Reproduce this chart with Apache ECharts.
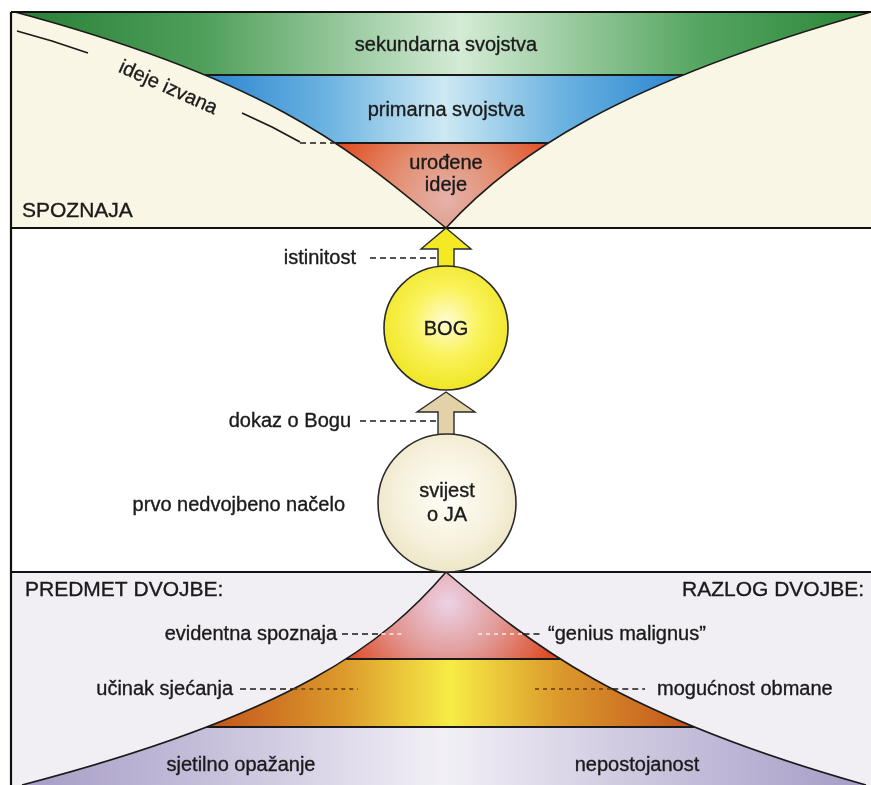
<!DOCTYPE html>
<html><head><meta charset="utf-8">
<script src="https://cdn.jsdelivr.net/npm/echarts@6/dist/echarts.min.js"></script>
<style>html,body{margin:0;padding:0;background:#fff}#c{width:871px;height:785px}</style>
</head><body><div id="c"></div><script>
// ---------------- data (diagram units = reference pixels) ----------------
const sectionRules = [12, 228, 572];
const sectionLabels = ['SPOZNAJA', 'PREDMET DVOJBE:', 'RAZLOG DVOJBE:'];
const topBandLabels = ['sekundarna svojstva', 'primarna svojstva', 'urođene\nideje'];
const topBandEdges = [12, 75, 143, 228];
const topCurveLeft = [[15, 12], [283, 84], [357, 156], [446, 228]];
const topCurveRight = [[871, 12], [615, 84], [512, 156], [446, 228]];
const sideLabel = 'ideje izvana';
const sideLineA = [[17, 31], [52, 41], [88, 53]];
const sideLineB = [[242, 113], [272, 127], [300, 142]];
const sideDash = [[300, 143], [334, 143]];
const bottomBandEdges = [572, 659, 727, 785];
const bottomCurveLeft = [[446, 572], [385, 643], [294, 714], [22, 785]];
const bottomCurveRight = [[446, 572], [530, 643], [614, 714], [866, 785]];
const circleLabels = ['BOG', 'svijest\no JA'];
const circleCenters = [[446, 328], [447, 503]];
const circleRadii = [62, 69];
const arrowTips = [[446, 228], [446, 392]];
const arrowHeadY = [249, 412];
const arrowHeadHalf = [25, 29];
const arrowShaftHalf = [8, 8];
const arrowBaseY = [268, 436];
const pointerLabels = ['istinitost', 'dokaz o Bogu'];
const pointerY = [258, 421];
const pointerTextRight = [356, 351];
const pointerDash = [[370, 438], [360, 440]];
const principleLabel = 'prvo nedvojbeno načelo';
const rowLeftLabels = ['evidentna spoznaja', 'učinak sjećanja'];
const rowRightLabels = ['“genius malignus”', 'mogućnost obmane'];
const rowY = [634, 689];
const rowLeftTextRight = [337, 233];
const rowRightTextLeft = [548, 657];
const rowLeftDash = [[342, 405], [240, 358]];
const rowRightDash = [[478, 540], [535, 645]];
const baseLabels = ['sjetilno opažanje', 'nepostojanost'];
const baseLabelX = [241, 637];
const baseLabelY = 765;
const frameLeft = 11, frameRight = 871, frameBottom = 785;

// ---------------- styles ----------------
const FONT = "'Liberation Sans', Arial, Helvetica, sans-serif";
const INK = '#1a1a1a';
const G = echarts.graphic;

// cubic curve helpers (control points evenly spaced in y, so t is linear in y)
function blossom(c, u1, u2, u3) {
  let p = c.map(q => q.slice());
  [u1, u2, u3].forEach(u => {
    const n = [];
    for (let i = 0; i < p.length - 1; i++) n.push([(1 - u) * p[i][0] + u * p[i + 1][0], (1 - u) * p[i][1] + u * p[i + 1][1]]);
    p = n;
  });
  return p[0];
}
function tAt(c, y) { return (y - c[0][1]) / (c[3][1] - c[0][1]); }
function xAtY(c, y) { const t = tAt(c, y); return blossom(c, t, t, t)[0]; }
function subCurve(c, ya, yb) {
  const a = tAt(c, ya), b = tAt(c, yb);
  return [blossom(c, a, a, a), blossom(c, a, a, b), blossom(c, a, b, b), blossom(c, b, b, b)];
}

function layer(z, build) {
  return {
    type: 'custom', coordinateSystem: 'cartesian2d', data: [[0, 0]], z: z,
    silent: true, animation: false, clip: false,
    renderItem: (params, api) => ({ type: 'group', children: build(api) })
  };
}
function fmt(api, p) { const q = api.coord(p); return q[0].toFixed(2) + ' ' + q[1].toFixed(2); }
function bandPath(api, lc, rc, ya, yb) {
  const L = subCurve(lc, ya, yb), R = subCurve(rc, yb, ya);
  return 'M' + fmt(api, L[0]) + ' C' + fmt(api, L[1]) + ' ' + fmt(api, L[2]) + ' ' + fmt(api, L[3]) +
    ' L' + fmt(api, R[0]) + ' C' + fmt(api, R[1]) + ' ' + fmt(api, R[2]) + ' ' + fmt(api, R[3]) + ' Z';
}
function curvePath(api, c) {
  return 'M' + fmt(api, c[0]) + ' C' + fmt(api, c[1]) + ' ' + fmt(api, c[2]) + ' ' + fmt(api, c[3]);
}
function line(api, pts, color, w, dash) {
  return { type: 'polyline', shape: { points: pts.map(p => api.coord(p)) },
    style: { stroke: color, lineWidth: w, fill: null, lineDash: dash || null } };
}
function text(api, s, x, y, opt) {
  const p = api.coord([x, y]);
  opt = opt || {};
  return { type: 'text', x: p[0], y: p[1], rotation: opt.rotation || 0,
    style: { text: s, fill: opt.fill || INK, fontSize: opt.size || 20, fontFamily: FONT,
      stroke: opt.fill || INK, lineWidth: 0.35,
      align: opt.align || 'center', verticalAlign: 'middle', lineHeight: opt.lineHeight || 22 } };
}
function hgrad(api, x0, x1, y, stops) {
  const a = api.coord([x0, y]), b = api.coord([x1, y]);
  return new G.LinearGradient(a[0], a[1], b[0], b[1], stops.map(s => ({ offset: s[0], color: s[1] })), true);
}
function rgrad(api, cx, cy, r, stops) {
  const c = api.coord([cx, cy]);
  const r2 = api.coord([cx + r, cy])[0] - c[0];
  return new G.RadialGradient(c[0], c[1], r2, stops.map(s => ({ offset: s[0], color: s[1] })), true);
}

const series = [];

// backgrounds
series.push(layer(1, api => {
  const rect = (y0, y1, fill) => {
    const a = api.coord([frameLeft, y0]), b = api.coord([frameRight, y1]);
    return { type: 'rect', shape: { x: a[0], y: a[1], width: b[0] - a[0], height: b[1] - a[1] }, style: { fill } };
  };
  return [
    rect(sectionRules[0], sectionRules[1], '#faf6e5'),
    rect(sectionRules[1], sectionRules[2], '#ffffff'),
    rect(sectionRules[2], frameBottom, '#f1eff3')
  ];
}));

// top funnel bands
series.push(layer(2, api => {
  const e = topBandEdges, out = [];
  const fills = [
    hgrad(api, xAtY(topCurveLeft, e[0]), xAtY(topCurveRight, e[0]), e[0],
      [[0, '#287f35'], [0.22, '#4f9f5a'], [0.52, '#d4ebd5'], [0.8, '#55a560'], [1, '#2a8538']]),
    hgrad(api, xAtY(topCurveLeft, e[1]), xAtY(topCurveRight, e[1]), e[1],
      [[0, '#2c86d0'], [0.25, '#6ab2e0'], [0.5, '#cde9f3'], [0.75, '#6ab2e0'], [1, '#2c86d0']]),
    rgrad(api, 446, 200, 120, [[0, '#e5b2ab'], [0.45, '#e38f72'], [1, '#e04c20']])
  ];
  for (let i = 0; i < 3; i++) {
    out.push({ type: 'path', shape: { pathData: bandPath(api, topCurveLeft, topCurveRight, e[i], e[i + 1]) },
      style: { fill: fills[i], stroke: null } });
  }
  for (let i = 1; i < 3; i++) {
    out.push(line(api, [[xAtY(topCurveLeft, e[i]), e[i]], [xAtY(topCurveRight, e[i]), e[i]]], INK, 2));
  }
  out.push({ type: 'path', shape: { pathData: curvePath(api, topCurveLeft) }, style: { fill: null, stroke: INK, lineWidth: 1.6 } });
  out.push({ type: 'path', shape: { pathData: curvePath(api, topCurveRight) }, style: { fill: null, stroke: INK, lineWidth: 1.6 } });
  return out;
}));

// bottom pyramid bands
series.push(layer(2, api => {
  const e = bottomBandEdges, out = [];
  const fills = [
    rgrad(api, 448, 603, 115, [[0, '#ecd2e6'], [0.45, '#e29c9a'], [1, '#de4a24']]),
    hgrad(api, xAtY(bottomCurveLeft, e[2]), xAtY(bottomCurveRight, e[2]), e[2],
      [[0, '#c2531c'], [0.28, '#dc9a2c'], [0.5, '#f7ec46'], [0.72, '#dc9a2c'], [1, '#c2531c']]),
    hgrad(api, xAtY(bottomCurveLeft, e[3]), xAtY(bottomCurveRight, e[3]), e[3],
      [[0, '#a69cc6'], [0.3, '#d2cce2'], [0.5, '#f2f0f6'], [0.7, '#d2cce2'], [1, '#a69cc6']])
  ];
  for (let i = 0; i < 3; i++) {
    out.push({ type: 'path', shape: { pathData: bandPath(api, bottomCurveLeft, bottomCurveRight, e[i], e[i + 1]) },
      style: { fill: fills[i], stroke: null } });
  }
  for (let i = 1; i < 3; i++) {
    out.push(line(api, [[xAtY(bottomCurveLeft, e[i]), e[i]], [xAtY(bottomCurveRight, e[i]), e[i]]], INK, 2));
  }
  out.push({ type: 'path', shape: { pathData: curvePath(api, bottomCurveLeft) }, style: { fill: null, stroke: INK, lineWidth: 1.6 } });
  out.push({ type: 'path', shape: { pathData: curvePath(api, bottomCurveRight) }, style: { fill: null, stroke: INK, lineWidth: 1.6 } });
  return out;
}));

// frame and rules
series.push(layer(5, api => {
  const out = [];
  sectionRules.forEach(y => out.push(line(api, [[frameLeft, y], [frameRight, y]], '#111', 2.2)));
  out.push(line(api, [[frameLeft, sectionRules[0]], [frameLeft, frameBottom]], '#111', 2.2));
  return out;
}));

// arrows and circles
series.push(layer(6, api => {
  const out = [];
  const arrowFills = ['#f3ea24', '#e3d2a8'];
  for (let i = 0; i < 2; i++) {
    const [tx, ty] = arrowTips[i], h = arrowHeadHalf[i], s = arrowShaftHalf[i];
    const pts = [[tx, ty], [tx + h, arrowHeadY[i]], [tx + s, arrowHeadY[i]], [tx + s, arrowBaseY[i]],
      [tx - s, arrowBaseY[i]], [tx - s, arrowHeadY[i]], [tx - h, arrowHeadY[i]]].map(p => api.coord(p));
    out.push({ type: 'polygon', shape: { points: pts }, style: { fill: arrowFills[i], stroke: '#2a2a2a', lineWidth: 1.4 } });
  }
  const circleFills = [
    new G.RadialGradient(0.5, 0.45, 0.6, [{ offset: 0, color: '#fffbd2' }, { offset: 0.45, color: '#faf35c' }, { offset: 1, color: '#eee31a' }]),
    new G.RadialGradient(0.5, 0.45, 0.6, [{ offset: 0, color: '#fffef8' }, { offset: 0.6, color: '#f6f1dc' }, { offset: 1, color: '#ebe2c0' }])
  ];
  for (let i = 0; i < 2; i++) {
    const c = api.coord(circleCenters[i]);
    const r = api.coord([circleCenters[i][0] + circleRadii[i], circleCenters[i][1]])[0] - c[0];
    out.push({ type: 'circle', shape: { cx: c[0], cy: c[1], r: r }, style: { fill: circleFills[i], stroke: '#2a2a2a', lineWidth: 1.6 } });
  }
  return out;
}));

// texts and pointer dashes
series.push(layer(7, api => {
  const out = [];
  out.push(text(api, topBandLabels[0], 446, 45));
  out.push(text(api, topBandLabels[1], 446, 110));
  out.push(text(api, topBandLabels[2], 446, 174, { lineHeight: 22 }));
  out.push(text(api, sectionLabels[0], 22, 211, { align: 'left', size: 21 }));
  out.push(text(api, sideLabel, 168, 88, { rotation: -0.42, size: 20 }));
  out.push(line(api, sideLineA, INK, 1.8));
  out.push(line(api, sideLineB, INK, 1.8));
  out.push(line(api, sideDash, INK, 1.6, [6, 4]));

  for (let i = 0; i < 2; i++) {
    out.push(text(api, pointerLabels[i], pointerTextRight[i], pointerY[i], { align: 'right' }));
    out.push(line(api, [[pointerDash[i][0], pointerY[i]], [pointerDash[i][1], pointerY[i]]], INK, 1.6, [6, 4]));
  }
  out.push(text(api, principleLabel, 345, 505, { align: 'right' }));
  out.push(text(api, circleLabels[0], circleCenters[0][0], circleCenters[0][1] + 1));
  out.push(text(api, circleLabels[1], circleCenters[1][0], circleCenters[1][1], { lineHeight: 24 }));

  out.push(text(api, sectionLabels[1], 25, 590, { align: 'left', size: 21 }));
  out.push(text(api, sectionLabels[2], 864, 590, { align: 'right', size: 21 }));
  const insideColors = ['#f6e8e2', '#6a4210'];
  for (let i = 0; i < 2; i++) {
    const y = rowY[i];
    const xl = xAtY(bottomCurveLeft, y), xr = xAtY(bottomCurveRight, y);
    out.push(text(api, rowLeftLabels[i], rowLeftTextRight[i], y, { align: 'right' }));
    out.push(text(api, rowRightLabels[i], rowRightTextLeft[i], y, { align: 'left' }));
    out.push(line(api, [[rowLeftDash[i][0], y], [xl, y]], INK, 1.6, [6, 4]));
    out.push(line(api, [[xl, y], [rowLeftDash[i][1], y]], insideColors[i], 1.6, [4, 4]));
    out.push(line(api, [[rowRightDash[i][0], y], [xr, y]], insideColors[i], 1.6, [4, 4]));
    out.push(line(api, [[xr, y], [rowRightDash[i][1], y]], INK, 1.6, [6, 4]));
  }
  for (let i = 0; i < 2; i++) out.push(text(api, baseLabels[i], baseLabelX[i], baseLabelY));
  return out;
}));

const chart = echarts.init(document.getElementById('c'), null, { renderer: 'canvas' });
chart.setOption({
  animation: false,
  grid: { left: 0, right: 0, top: 0, bottom: 0 },
  xAxis: { type: 'value', min: 0, max: 871, show: false },
  yAxis: { type: 'value', min: 0, max: 785, inverse: true, show: false },
  series: series
});
</script></body></html>
